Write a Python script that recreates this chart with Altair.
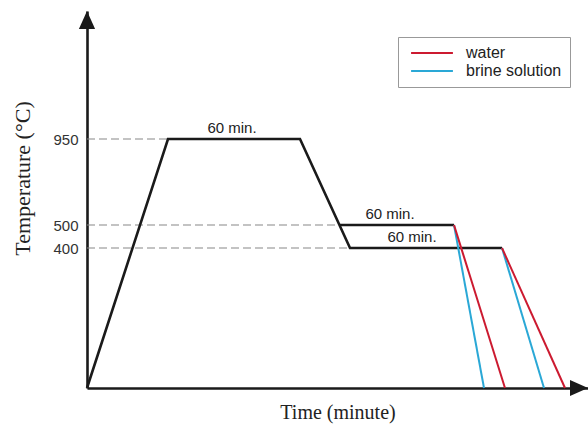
import altair as alt
import pandas as pd

# ---- data (schematic time units, temperature in °C) ----
profile_time = [0, 81, 213, 263, 415]
profile_temp = [25, 950, 950, 400, 400]
hold500_time = [252, 367]
hold500_temp = [500, 500]

quench_start_time = [367, 415]
quench_start_temp = [500, 400]
water_end_time = [418, 478]
brine_end_time = [397, 457]
quench_end_temp = 25

guide_temp = [950, 500, 400]
guide_end_time = [81, 252, 263]

label_text = ["60 min.", "60 min.", "60 min."]
label_time = [145, 303, 325]
label_temp = [950, 500, 400]

y_tick_values = [400, 500, 950]
media = ["water", "brine solution"]
media_colors = ["#cc1a30", "#2aa8d6"]

time_axis_end = 501
temp_axis_top = 1620

# ---- tables ----
rows = []
for i, (t, T) in enumerate(zip(profile_time, profile_temp)):
    rows.append({"seg": "profile", "i": i, "t": t, "T": T})
for i, (t, T) in enumerate(zip(hold500_time, hold500_temp)):
    rows.append({"seg": "hold500", "i": i, "t": t, "T": T})
df_profile = pd.DataFrame(rows)

def quench_df(medium, end_times):
    r = []
    for k, (t0, T0, t1) in enumerate(zip(quench_start_time, quench_start_temp, end_times)):
        r.append({"medium": medium, "seg": k, "i": 0, "t": t0, "T": T0})
        r.append({"medium": medium, "seg": k, "i": 1, "t": t1, "T": quench_end_temp})
    return pd.DataFrame(r)

df_water = quench_df("water", water_end_time)
df_brine = quench_df("brine solution", brine_end_time)

df_guide = pd.DataFrame({"t0": [0] * len(guide_temp), "t1": guide_end_time, "T": guide_temp})
df_label = pd.DataFrame({"txt": label_text, "t": label_time, "T": label_temp})
df_arrow_x = pd.DataFrame({"t": [time_axis_end], "T": [quench_end_temp]})
df_arrow_y = pd.DataFrame({"t": [0], "T": [temp_axis_top]})

# ---- scales / axes ----
xscale = alt.Scale(domain=[0, time_axis_end], nice=False, zero=False)
yscale = alt.Scale(domain=[quench_end_temp, 400, 500, 950, temp_axis_top],
                   range=[377, 237, 214, 128, 0], nice=False, zero=False)

xaxis = alt.Axis(title="Time (minute)", labels=False, ticks=False, grid=False,
                 domainColor="#1a1a1a", domainWidth=2.6,
                 titleFont="Liberation Serif", titleFontSize=20, titleFontWeight="normal",
                 titleColor="#222222", titlePadding=14)
yaxis = alt.Axis(title="Temperature (°C)", values=y_tick_values, ticks=False, grid=False,
                 domainColor="#1a1a1a", domainWidth=2.6,
                 labelFont="Liberation Sans", labelFontSize=15, labelColor="#333333",
                 labelPadding=9,
                 titleFont="Liberation Serif", titleFontSize=22, titleFontWeight="normal",
                 titleColor="#222222", titlePadding=18, titleY=167)

X = alt.X("t:Q", scale=xscale, axis=xaxis)
Y = alt.Y("T:Q", scale=yscale, axis=yaxis)

color_enc = alt.Color(
    "medium:N",
    scale=alt.Scale(domain=media, range=media_colors),
    legend=alt.Legend(title=None, orient="none", legendX=311, legendY=26,
                      direction="vertical", symbolType="M-5,0H5", symbolSize=70,
                      symbolStrokeWidth=2.2, symbolOffset=18, labelOffset=26,
                      labelFont="Liberation Sans", labelFontSize=16, labelColor="#222222",
                      padding=8, rowPadding=2, strokeColor="#999999",
                      fillColor="white", cornerRadius=0),
)

guides = alt.Chart(df_guide).mark_rule(color="#888888", strokeWidth=1.2, strokeDash=[8, 4]).encode(
    x=alt.X("t0:Q", scale=xscale, axis=xaxis), x2="t1:Q", y=alt.Y("T:Q", scale=yscale, axis=yaxis)
)

profile = alt.Chart(df_profile).mark_line(color="#1a1a1a", strokeWidth=2.6, strokeJoin="miter").encode(
    x=X, y=Y, detail="seg:N", order="i:Q"
)

brine = alt.Chart(df_brine).mark_line(strokeWidth=2).encode(
    x=X, y=Y, color=color_enc, detail="seg:N", order="i:Q"
)
water = alt.Chart(df_water).mark_line(strokeWidth=2).encode(
    x=X, y=Y, color=color_enc, detail="seg:N", order="i:Q"
)

labels = alt.Chart(df_label).mark_text(font="Liberation Sans", fontSize=15, color="#222222",
                                       baseline="alphabetic", dy=-6).encode(
    x=X, y=Y, text="txt:N"
)

arrow_x = alt.Chart(df_arrow_x).mark_point(shape="M0,0L-2,-0.9L-2,0.9Z", filled=True,
                                           fill="#1a1a1a", strokeWidth=0, size=324, opacity=1).encode(x=X, y=Y)
arrow_y = alt.Chart(df_arrow_y).mark_point(shape="M0,0L-0.9,2L0.9,2Z", filled=True,
                                           fill="#1a1a1a", strokeWidth=0, size=324, opacity=1).encode(x=X, y=Y)

chart = alt.layer(guides, profile, brine, water, labels, arrow_x, arrow_y).properties(
    width=501, height=377,
    autosize=alt.AutoSizeParams(type="none"),
    padding={"left": 87, "top": 11, "right": 0, "bottom": 37},
    background="white",
).configure_view(stroke=None)

chart.save("out.html", embed_options={"renderer": "svg", "actions": False})
